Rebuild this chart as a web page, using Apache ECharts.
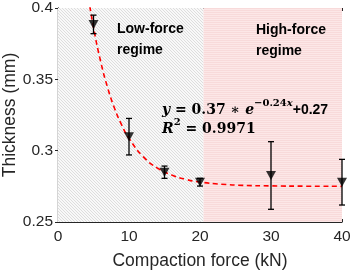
<!DOCTYPE html>
<html><head><meta charset="utf-8">
<script src="https://cdn.jsdelivr.net/npm/echarts@6/dist/echarts.min.js"></script>
<style>html,body{margin:0;padding:0;background:#fff}#c{width:352px;height:273px}</style>
</head><body><div id="c"></div>
<script>
// ---- data ----
const forces = [5, 10, 15, 20, 30, 40];                       // kN
const thickness = [0.3885, 0.3098, 0.2849, 0.2779, 0.2826, 0.2779]; // mm
const errors = [0.0065, 0.0128, 0.0043, 0.0027, 0.0237, 0.0160];
// fitted curve
const fitX = [4.3, 5, 6, 7, 8, 9, 10, 12, 14, 16, 18, 20, 23, 26, 30, 35, 40];
const fitY = [0.407, 0.3864, 0.3627, 0.344, 0.3292, 0.3177, 0.3086, 0.2958, 0.2878, 0.2830, 0.2799, 0.2780, 0.2765, 0.2757, 0.2753, 0.2751, 0.2750];
const regimeSplit = 20.5;
const xTicks = {min: 0, max: 40, interval: 10};
const yTicks = {min: 0.25, max: 0.4, interval: 0.05};

function hatch() {
  const c = document.createElement('canvas'); c.width = 6; c.height = 6;
  const g = c.getContext('2d');
  g.fillStyle = '#f8f8f8'; g.fillRect(0, 0, 6, 6);
  g.strokeStyle = '#d6d6d6'; g.lineWidth = 0.8;
  for (let o = -6; o <= 6; o += 3) { g.beginPath(); g.moveTo(o, 0); g.lineTo(o + 6, 6); g.stroke(); }
  return c;
}
function stripes() {
  const c = document.createElement('canvas'); c.width = 4; c.height = 4;
  const g = c.getContext('2d');
  g.fillStyle = '#fce7e7'; g.fillRect(0, 0, 4, 4);
  g.fillStyle = '#f8dada'; g.fillRect(0, 0, 4, 1); g.fillRect(0, 2, 4, 1);
  return c;
}

const chart = echarts.init(document.getElementById('c'), null, {renderer: 'canvas'});
const axisCol = '#262626';
const ff = 'Liberation Sans, Arial, sans-serif';
const lblFont = {color: axisCol, fontFamily: ff, fontSize: 15.5};
const errData = forces.map((f, i) => [f, thickness[i] - errors[i], thickness[i] + errors[i]]);

chart.setOption({
  animation: false,
  grid: {left: 58, right: 10, top: 8, bottom: 51, containLabel: false, outerBoundsMode: 'none'},
  xAxis: [{
    type: 'value', min: xTicks.min, max: xTicks.max, interval: xTicks.interval,
    name: 'Compaction force (kN)', nameLocation: 'middle', nameGap: 30, nameMoveOverlap: false,
    nameTextStyle: {color: axisCol, fontFamily: ff, fontSize: 17.5},
    axisLine: {show: true, lineStyle: {color: axisCol, width: 1.2}},
    axisTick: {show: true, inside: true, length: 3, lineStyle: {color: axisCol}},
    axisLabel: Object.assign({margin: 7}, lblFont),
    splitLine: {show: false}
  }, {
    type: 'value', position: 'top', min: xTicks.min, max: xTicks.max, interval: xTicks.interval,
    axisLine: {show: true, lineStyle: {color: axisCol, width: 1.2}},
    axisTick: {show: true, inside: true, length: 3, lineStyle: {color: axisCol}},
    axisLabel: {show: false}, splitLine: {show: false}
  }],
  yAxis: [{
    type: 'value', min: yTicks.min, max: yTicks.max, interval: yTicks.interval,
    axisLine: {show: true, lineStyle: {color: axisCol, width: 1.2}},
    axisTick: {show: true, inside: true, length: 3, lineStyle: {color: axisCol}},
    axisLabel: Object.assign({margin: 5}, lblFont),
    splitLine: {show: false}
  }, {
    type: 'value', position: 'right', min: yTicks.min, max: yTicks.max, interval: yTicks.interval,
    axisLine: {show: true, lineStyle: {color: axisCol, width: 1.2}},
    axisTick: {show: true, inside: true, length: 3, lineStyle: {color: axisCol}},
    axisLabel: {show: false}, splitLine: {show: false}
  }],
  series: [{
    type: 'line', data: [], z: 0, silent: true,
    markArea: {
      silent: true,
      data: [
        [{xAxis: xTicks.min, yAxis: yTicks.min, itemStyle: {color: {image: hatch(), repeat: 'repeat'}}}, {xAxis: regimeSplit, yAxis: yTicks.max}],
        [{xAxis: regimeSplit, yAxis: yTicks.min, itemStyle: {color: {image: stripes(), repeat: 'repeat'}}}, {xAxis: xTicks.max, yAxis: yTicks.max}]
      ]
    }
  }, {
    type: 'line', data: fitX.map((x, i) => [x, fitY[i]]), smooth: true, showSymbol: false, clip: true, z: 3,
    lineStyle: {color: '#ff0000', width: 1.6, type: [5, 3.5]}
  }, {
    type: 'custom', data: errData, z: 4, clip: false,
    renderItem: function (params, api) {
      const x = api.value(0);
      const lo = api.coord([x, api.value(1)]);
      const hi = api.coord([x, api.value(2)]);
      const w = 3;
      const st = {stroke: '#000', lineWidth: 1.3};
      return {type: 'group', children: [
        {type: 'line', shape: {x1: lo[0], y1: lo[1], x2: hi[0], y2: hi[1]}, style: st},
        {type: 'line', shape: {x1: lo[0] - w, y1: lo[1], x2: lo[0] + w, y2: lo[1]}, style: st},
        {type: 'line', shape: {x1: hi[0] - w, y1: hi[1], x2: hi[0] + w, y2: hi[1]}, style: st}
      ]};
    }
  }, {
    type: 'scatter', data: forces.map((f, i) => [f, thickness[i]]), z: 5, clip: false,
    symbol: 'triangle', symbolRotate: 180, symbolSize: [10, 9],
    itemStyle: {color: '#000'}
  }],
  graphic: [
    {type: 'text', x: 10, y: 115, rotation: Math.PI / 2, z: 10, style: {text: 'Thickness (mm)', fill: axisCol, font: '17.5px "Liberation Sans", Arial, sans-serif', align: 'center', verticalAlign: 'middle'}},
    {type: 'text', left: 117, top: 19, z: 10, style: {text: 'Low-force\nregime', fill: '#000', font: 'bold 14px "Liberation Sans", Arial, sans-serif', lineHeight: 21}},
    {type: 'text', left: 256, top: 20, z: 10, style: {text: 'High-force\nregime', fill: '#000', font: 'bold 14px "Liberation Sans", Arial, sans-serif', lineHeight: 21}},
    {type: 'text', left: 162, top: 98, z: 10, style: {
      text: '{i|y}{n| = 0.37 ∗ }{i|e}{s|−0.24}{si|x}{p|+0.27}\n{i|R}{s|2}{n| = 0.9971}',
      fill: '#000',
      rich: {
        i: {font: 'italic bold 14px "DejaVu Serif", serif', fill: '#000', verticalAlign: 'bottom', lineHeight: 19},
        n: {font: 'bold 14px "DejaVu Serif", serif', fill: '#000', verticalAlign: 'bottom', lineHeight: 19},
        s: {font: 'bold 10px "DejaVu Serif", serif', fill: '#000', verticalAlign: 'top', lineHeight: 19},
        si: {font: 'italic bold 10px "DejaVu Serif", serif', fill: '#000', verticalAlign: 'top', lineHeight: 19},
        p: {font: 'bold 14px "Liberation Sans", Arial, sans-serif', fill: '#000', verticalAlign: 'bottom', lineHeight: 19}
      }
    }}
  ]
});
</script></body></html>
